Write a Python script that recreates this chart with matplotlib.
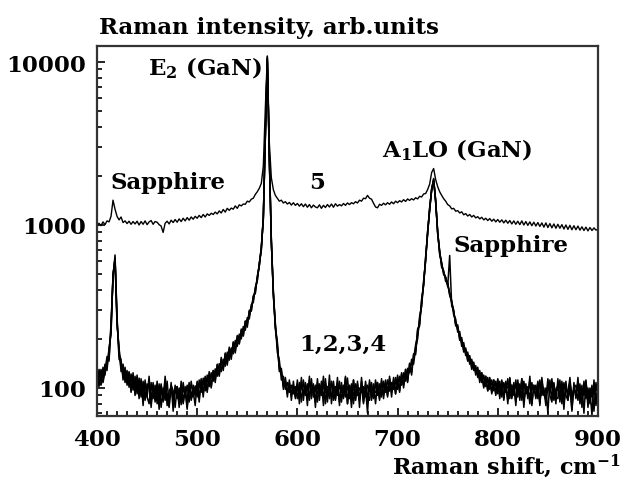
#!/usr/bin/env python3
import numpy as np
import matplotlib
matplotlib.use("Agg")
import matplotlib.pyplot as plt
from matplotlib.ticker import FixedLocator, MultipleLocator, NullFormatter

plt.rcParams["font.family"] = ["DejaVu Serif"]
plt.rcParams["font.weight"] = "bold"
plt.rcParams["mathtext.fontset"] = "custom"
plt.rcParams["mathtext.rm"] = "DejaVu Serif:bold"
plt.rcParams["mathtext.it"] = "DejaVu Serif:bold"
plt.rcParams["mathtext.bf"] = "DejaVu Serif:bold"
plt.rcParams["mathtext.default"] = "rm"

# Raman shift grid, cm-1 (400..900, every 2)
shift = np.arange(400, 901, 2)

# spectra 1-4 (GaN layers)
s1 = [118,102,130,112,140,128,176,215,505,610,
      245,178,126,140,108,128,101,122,97,118,
      92,115,88,110,84,106,99,80,108,86,
      102,80,99,84,112,78,96,101,83,104,
      86,100,79,108,88,104,82,110,90,103,
      88,112,94,115,96,120,102,124,110,131,
      118,141,126,150,136,166,148,176,162,196,
      180,214,200,238,226,270,265,325,335,415,
      455,590,700,1130,3400,10200,2700,780,395,230,
      185,130,128,102,112,92,108,90,104,88,
      106,86,110,90,102,84,112,94,100,82,
      108,92,104,86,114,88,98,106,84,102,
      90,110,82,104,94,115,86,100,80,106,
      96,84,110,92,104,80,108,94,86,112,
      90,106,88,110,94,112,96,108,98,116,
      98,118,104,124,110,132,124,150,140,176,
      200,275,315,455,600,920,1220,1680,1870,1430,
      880,700,550,525,450,445,370,345,280,265,
      220,222,180,190,158,166,140,150,128,137,
      116,128,108,120,102,116,98,112,96,110,
      92,110,88,108,94,114,86,104,90,112,
      88,106,84,110,92,102,80,108,94,104,
      86,112,90,100,78,106,92,114,84,98,
      104,86,110,80,100,92,116,84,102,88,
      108,82,98,90,112,76,100,88,104,82,
      98]
s2 = [100,124,108,134,120,150,150,250,470,655,
      275,150,145,118,130,110,124,96,118,92,
      116,90,110,82,108,88,80,108,86,104,
      80,106,76,100,84,110,78,104,96,76,
      102,80,106,82,102,76,108,86,104,90,
      108,86,112,92,116,96,122,102,128,112,
      138,120,150,132,162,142,174,156,190,168,
      206,188,226,210,256,244,296,296,364,386,
      485,560,735,1080,3600,10800,2500,820,370,250,
      165,148,112,118,98,108,94,104,92,102,
      86,108,82,112,90,104,84,114,88,102,
      82,106,90,118,80,102,86,110,96,84,
      108,82,104,88,116,80,102,86,112,84,
      106,86,102,80,110,90,84,108,88,104,
      108,86,110,90,108,88,114,94,112,92,
      116,96,122,104,130,110,140,124,160,166,
      226,248,345,425,640,880,1280,1620,1930,1370,
      920,660,590,495,480,418,650,320,298,245,
      238,200,198,170,172,148,154,134,140,124,
      130,112,124,102,118,96,114,94,112,92,
      112,90,110,86,108,84,114,88,106,82,
      108,88,114,82,102,90,112,78,104,86,
      108,80,110,92,84,114,90,82,106,88,
      86,112,80,108,90,84,110,74,100,104,
      84,106,76,110,86,100,80,104,72,108,
      88]
s3 = [122,110,104,118,138,136,170,220,495,625,
      250,172,132,134,112,122,106,116,102,112,
      98,108,94,102,90,100,108,86,98,92,
      98,88,104,86,96,92,84,98,88,96,
      90,96,86,100,90,88,98,94,88,100,
      94,104,98,110,100,114,106,120,112,126,
      122,136,130,146,142,160,154,172,168,190,
      196,208,206,232,236,262,276,315,345,405,
      460,575,710,1110,3450,10400,2650,790,390,245,
      178,138,124,106,108,96,102,94,100,92,
      100,92,104,96,92,106,90,100,94,104,
      92,98,90,104,94,96,100,88,102,96,
      92,104,94,98,88,102,92,106,90,98,
      90,100,94,102,88,104,96,92,100,94,
      96,100,94,104,98,102,96,106,100,108,
      102,112,108,118,116,126,130,142,150,184,
      210,265,325,445,610,910,1240,1640,1890,1410,
      895,690,560,515,470,428,385,330,292,250,
      228,214,188,182,162,160,144,146,130,132,
      120,122,112,116,106,110,102,108,100,106,
      98,104,96,106,98,102,94,104,96,102,
      96,100,92,104,98,96,90,102,96,100,
      92,106,96,94,88,100,98,104,90,96,
      98,92,104,88,96,96,108,90,98,94,
      100,90,94,96,104,86,96,92,98,90,
      94]
s4 = [96,130,120,108,126,156,146,240,480,630,
      265,160,150,112,134,104,126,94,124,90,
      120,86,114,78,112,88,118,76,104,82,
      110,74,106,82,118,86,76,108,72,98,
      102,76,110,80,96,74,106,84,96,78,
      110,82,114,88,118,94,126,100,128,108,
      140,118,154,128,164,138,178,150,192,164,
      210,186,230,208,258,236,300,298,368,380,
      480,565,728,1090,3550,10600,2550,810,375,236,
      192,126,132,98,116,88,112,84,110,86,
      112,80,116,84,108,78,118,86,106,76,
      114,84,110,78,104,82,120,80,110,86,
      116,78,108,86,118,80,104,76,112,84,
      110,76,116,82,100,70,112,84,106,80,
      108,84,114,86,112,90,118,88,116,92,
      120,94,124,100,130,108,142,120,162,160,
      230,240,350,430,630,890,1260,1660,1910,1390,
      910,670,580,505,476,436,375,338,300,240,
      244,196,204,166,176,146,158,130,144,120,
      134,108,124,100,118,96,116,92,112,90,
      114,86,112,84,110,80,116,86,108,78,
      112,84,114,76,106,86,118,80,104,88,
      110,78,116,90,100,70,112,86,108,80,
      114,82,106,74,110,84,100,72,108,86,
      116,80,104,70,110,82,96,68,112,78,
      100]
# spectrum 5
s5 = [975,1025,990,1045,1005,1060,1045,1130,1420,1250,
      1130,1075,1120,1035,1060,1020,1055,1010,1050,1015,
      1055,1000,1050,1010,1060,1005,1045,1065,1010,1050,
      1040,1005,985,900,1025,1055,1015,1070,1035,1080,
      1040,1090,1050,1100,1060,1110,1070,1120,1085,1130,
      1100,1145,1110,1160,1120,1170,1145,1180,1160,1200,
      1170,1220,1185,1245,1200,1265,1230,1270,1250,1310,
      1265,1330,1310,1345,1340,1400,1385,1440,1460,1540,
      1600,1680,1800,2300,5200,10900,3200,1950,1650,1520,
      1460,1400,1420,1365,1390,1345,1375,1325,1370,1320,
      1355,1305,1350,1295,1345,1285,1335,1275,1325,1290,
      1275,1330,1265,1320,1280,1335,1290,1345,1285,1350,
      1305,1335,1310,1355,1320,1365,1335,1370,1350,1390,
      1365,1420,1400,1460,1450,1520,1460,1440,1360,1290,
      1275,1340,1320,1360,1330,1370,1340,1385,1350,1400,
      1370,1410,1385,1430,1395,1445,1415,1450,1425,1470,
      1445,1500,1485,1550,1560,1650,1780,2100,2220,1900,
      1720,1600,1520,1450,1400,1335,1310,1255,1265,1215,
      1225,1185,1205,1155,1175,1135,1160,1120,1145,1105,
      1125,1090,1115,1075,1100,1065,1095,1055,1085,1045,
      1080,1040,1075,1030,1070,1025,1065,1015,1060,1010,
      1055,1005,1060,1000,1050,995,1045,990,1040,985,
      1035,980,1030,970,1030,965,1020,960,1015,955,
      1010,955,1005,945,1000,940,995,935,990,935,
      985,930,975,925,970,920,965,925,960,930,
      945]

fig = plt.figure(figsize=(6.27, 4.85), dpi=100)
ax = fig.add_axes([0.1547, 0.1402, 0.799, 0.7629])

for s in (s1, s2, s3, s4):
    ax.plot(shift, s, color="black", lw=1.1)
ax.plot(shift, s5, color="black", lw=1.0)

ax.set_yscale("log")
ax.set_xlim(400, 900)
ax.set_ylim(67.3, 12540)
ax.set_yticks([100, 1000, 10000])
ax.set_yticklabels(["100", "1000", "10000"])
ax.yaxis.set_minor_locator(FixedLocator([k * 10**d for d in (1, 2, 3) for k in range(2, 10)]))
ax.yaxis.set_minor_formatter(NullFormatter())
ax.xaxis.set_major_locator(MultipleLocator(100))
ax.xaxis.set_minor_locator(MultipleLocator(10))

ax.tick_params(which="both", direction="in", labelsize=16.5, width=1.2, colors="black")
ax.tick_params(which="major", length=6)
ax.tick_params(which="minor", length=3.5)
ax.tick_params(axis="x", pad=8.5)
ax.tick_params(axis="y", pad=8)
for sp in ax.spines.values():
    sp.set_linewidth(1.6)
    sp.set_color("#333333")

kw = dict(fontsize=16.5, fontweight="bold", color="black")
ax.text(413, 1836, "Sapphire", ha="left", va="center", **kw)
ax.text(451, 9300, r"E$_2$ (GaN)", ha="left", va="center", **kw)
ax.text(612, 1836, "5", ha="left", va="center", **kw)
ax.text(684, 2925, r"A$_1$LO (GaN)", ha="left", va="center", **kw)
ax.text(756, 750, "Sapphire", ha="left", va="center", **kw)
ax.text(602, 186, "1,2,3,4", ha="left", va="center", **kw)

fig.text(0.158, 0.942, "Raman intensity, arb.units", ha="left", va="center", **kw)
fig.text(0.99, 0.022, r"Raman shift, cm$^{-1}$", ha="right", va="baseline",
         fontsize=16, fontweight="bold", color="black")

fig.savefig("out.png", dpi=100)
